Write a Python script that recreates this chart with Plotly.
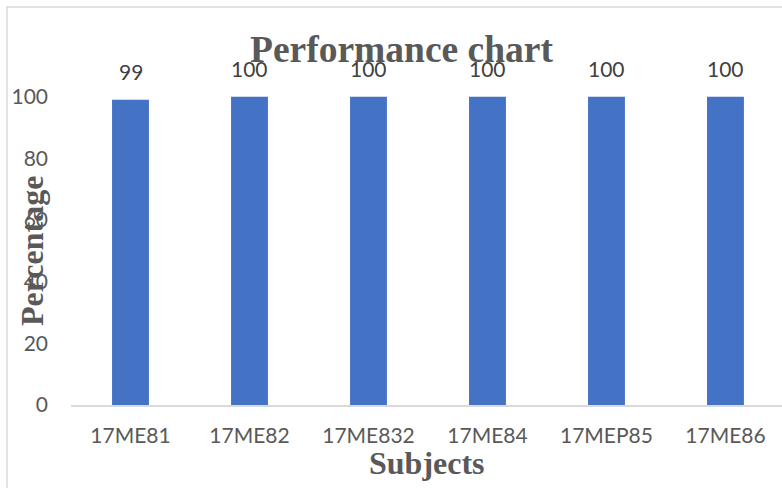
import plotly.graph_objects as go

subjects = ["17ME81", "17ME82", "17ME832", "17ME84", "17MEP85", "17ME86"]
percent = [99, 100, 100, 100, 100, 100]
y_ticks = [0, 20, 40, 60, 80, 100]

W, H = 782, 488
L, R, T, B = 71, 0, 35, 83

fig = go.Figure()
fig.add_trace(go.Bar(
    x=subjects, y=percent, marker_color="#4472C4", width=0.31,
    marker_line_width=0, hoverinfo="x+y",
))

annotations = []
for s, v in zip(subjects, percent):
    annotations.append(dict(
        x=s, y=v, xref="x", yref="y", text=str(v), showarrow=False,
        yanchor="bottom", yshift=14,
        font=dict(family="Lato", size=21, color="#404040"),
    ))

serif = dict(family="Liberation Serif", color="#595959", weight="bold")
annotations.append(dict(
    x=-0.0549, y=0.416, xref="paper", yref="paper", text="Percentage",
    textangle=-90, showarrow=False, xanchor="center", yanchor="middle",
    font=dict(size=32, **serif),
))
annotations.append(dict(
    x=0.5014, y=-0.158, xref="paper", yref="paper", text="Subjects",
    showarrow=False, xanchor="center", yanchor="middle",
    font=dict(size=32, **serif),
))
annotations.append(dict(
    x=0.4655, y=0.96, xref="paper", yref="paper", text="Performance chart",
    showarrow=False, xanchor="center", yanchor="middle",
    font=dict(size=37.5, **serif),
))

fig.update_layout(
    width=W, height=H,
    margin=dict(l=L, r=R, t=T, b=B, autoexpand=False),
    paper_bgcolor="white", plot_bgcolor="white",
    showlegend=False,
    annotations=annotations,
    shapes=[dict(
        type="rect", xref="paper", yref="paper",
        x0=(7 - L) / (W - L - R), x1=1.02,
        y0=-(495 - (H - B)) / (H - T - B), y1=1 + (T - 7) / (H - T - B),
        line=dict(color="#D9D9D9", width=1.5), layer="below",
    )],
)
fig.update_xaxes(
    range=[-0.5, 5.475], showline=True, linecolor="#D9D9D9", linewidth=1.5,
    ticks="", showgrid=False, ticklabelstandoff=11,
    tickfont=dict(family="Lato", size=21, color="#595959"),
)
fig.update_yaxes(
    range=[0, 120], tickvals=y_ticks, showgrid=False, zeroline=False,
    showline=False, ticks="", ticklabelstandoff=22,
    tickfont=dict(family="Lato", size=21, color="#595959"),
)

fig.write_html("out.html", config={"displayModeBar": False},
               post_script="document.body.style.margin='0';")
